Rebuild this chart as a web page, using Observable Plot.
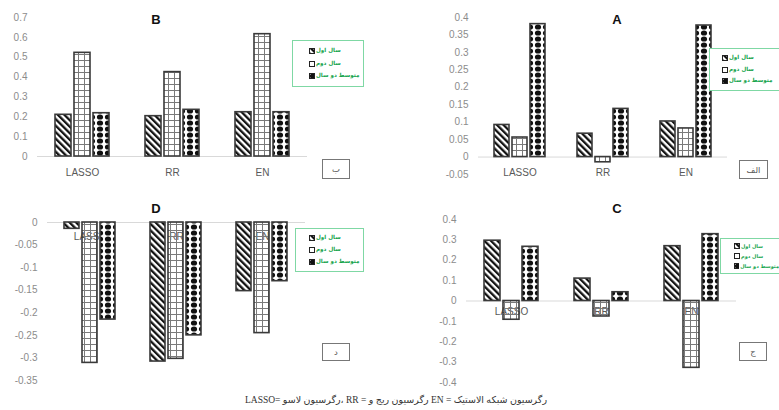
<!DOCTYPE html>
<html>
<head>
<meta charset="utf-8">
<script src="https://cdn.jsdelivr.net/npm/d3@7"></script>
<script src="https://cdn.jsdelivr.net/npm/@observablehq/plot@0.6"></script>
<style>
body{margin:0;background:#fff;}
#root{position:relative;width:779px;height:410px;overflow:hidden;background:#fff;font-family:"Liberation Sans",Arial,sans-serif;}
.title{position:absolute;font-weight:bold;font-size:13px;color:#111;transform:translate(-50%,-50%);line-height:1;}
.legend{position:absolute;border:1px solid #7fd8a4;background:#fff;box-sizing:border-box;display:flex;flex-direction:column;justify-content:space-evenly;overflow:hidden;}
.legend.open{border-right:none;}
.legend .row{display:flex;align-items:center;gap:1px;font-family:"DejaVu Sans",sans-serif;font-weight:bold;color:#12a34a;line-height:1;white-space:nowrap;}
.legend svg{display:block;}
.tag{position:absolute;border:1.5px solid #777;background:#fff;box-sizing:border-box;display:flex;align-items:center;justify-content:center;font-family:"DejaVu Sans",sans-serif;font-size:8.5px;color:#555;}
.caption{position:absolute;top:394px;left:396px;transform:translateX(-50%);white-space:nowrap;font-family:"Liberation Serif","DejaVu Sans",serif;font-size:9.5px;color:#333;direction:ltr;}
</style>
</head>
<body>
<div id="root">
<svg width="0" height="0" style="position:absolute">
  <defs>
    <pattern id="pHatch" patternUnits="userSpaceOnUse" width="4.6" height="4.6" patternTransform="rotate(-45)">
      <rect width="4.6" height="4.6" fill="#fff"/>
      <rect width="2.3" height="4.6" fill="#111"/>
    </pattern>
    <pattern id="pGrid" patternUnits="userSpaceOnUse" width="6" height="6">
      <path d="M0 0.5H6M0.5 0V6" stroke="#7a7a7a" stroke-width="1" fill="none"/>
    </pattern>
    <pattern id="pDots" patternUnits="userSpaceOnUse" width="8" height="6">
      <rect width="8" height="6" fill="#fff"/>
      <ellipse cx="4" cy="3" rx="3.1" ry="2.6" fill="#111"/>
    </pattern>
  </defs>
</svg>
</div>
<script>
// ---- data ----
const methods = ["LASSO", "RR", "EN"];
const seriesNames = ["سال اول", "سال دوم", "متوسط دو سال"];
const titles = ["A", "B", "C", "D"];
const tagLabels = ["الف", "ب", "ج", "د"];
const captionText = "LASSO= رگرسیون لاسو، RR = رگرسیون ریج و EN = رگرسیون شبکه الاستیک";

// values[method][series]
const valuesA = [[0.092, 0.056, 0.381], [0.067, -0.015, 0.138], [0.102, 0.082, 0.377]];
const valuesB = [[0.21, 0.522, 0.218], [0.203, 0.425, 0.235], [0.223, 0.616, 0.223]];
const valuesC = [[0.296, -0.092, 0.266], [0.11, -0.076, 0.043], [0.269, -0.328, 0.328]];
const valuesD = [[-0.014, -0.311, -0.215], [-0.308, -0.302, -0.25], [-0.152, -0.245, -0.13]];

const ticksA = [-0.05, 0, 0.05, 0.1, 0.15, 0.2, 0.25, 0.3, 0.35, 0.4];
const ticksB = [0, 0.1, 0.2, 0.3, 0.4, 0.5, 0.6, 0.7];
const ticksC = [-0.4, -0.3, -0.2, -0.1, 0, 0.1, 0.2, 0.3, 0.4];
const ticksD = [-0.35, -0.3, -0.25, -0.2, -0.15, -0.1, -0.05, 0];

// ---- styling / layout ----
const patternUrls = ["url(#pHatch)", "url(#pGrid)", "url(#pDots)"];
const root = document.getElementById("root");

const panels = [
  {values: valuesB, ticks: ticksB, domain: [0, 0.7], title: titles[1], tag: tagLabels[1],
   left: 0, top: 0, width: 390, height: 190, m: [17, 83, 34, 37], labelAt: 0, dy: 16,
   titlePos: [156, 19], legend: [292, 40, 72, 47, 16, 5.6, false], tagBox: [322, 159, 28, 20]},
  {values: valuesA, ticks: ticksA, domain: [-0.05, 0.4], title: titles[0], tag: tagLabels[0],
   left: 390, top: 0, width: 389, height: 190, m: [17, 52, 16, 88], labelAt: -0.05, dy: -2,
   titlePos: [617, 19], legend: [709, 48, 70, 43, 12, 5.6, true], tagBox: [739, 160, 29, 19]},
  {values: valuesD, ticks: ticksD, domain: [-0.35, 0], title: titles[3], tag: tagLabels[3],
   left: 0, top: 200, width: 390, height: 190, m: [22, 85, 10, 47], labelAt: 0, dy: 14,
   titlePos: [156, 208], legend: [295, 228, 69, 44, 13, 5.6, false], tagBox: [322, 343, 28, 18]},
  {values: valuesC, ticks: ticksC, domain: [-0.4, 0.4], title: titles[2], tag: tagLabels[2],
   left: 390, top: 200, width: 389, height: 190, m: [19, 43, 8, 76], labelAt: 0, dy: 11,
   titlePos: [617, 208], legend: [720, 238, 59, 36, 13, 5, true], tagBox: [739, 342, 28, 19]}
];

function fmt(d) { return String(+d.toFixed(2)); }

for (const p of panels) {
  const data = methods.flatMap((m, i) => seriesNames.map((s, j) => ({method: m, series: s, value: p.values[i][j]})));
  const svg = Plot.plot({
    width: p.width, height: p.height,
    marginTop: p.m[0], marginRight: p.m[1], marginBottom: p.m[2], marginLeft: p.m[3],
    style: {background: "transparent", color: "#8c8c8c", fontSize: "10px", fontFamily: "Liberation Sans, Arial, sans-serif", overflow: "visible"},
    fx: {domain: methods, padding: 0, axis: null},
    x: {domain: seriesNames, paddingInner: 0.15, paddingOuter: 0.85, axis: null},
    y: {domain: p.domain, axis: null},
    color: {domain: seriesNames, range: patternUrls},
    marks: [
      Plot.ruleY([0], {stroke: "#d9d9d9", strokeWidth: 1}),
      Plot.axisY(p.ticks, {tickSize: 0, tickPadding: 10, tickFormat: fmt, fill: "#8c8c8c", fontSize: 10, label: null}),
      Plot.text(methods, {fx: d => d, y: () => p.labelAt, text: d => d, dy: p.dy, fill: "#595959", fontSize: 10}),
      Plot.barY(data, {fx: "method", x: "series", y: "value", fill: "series", stroke: "#3a3a3a", strokeWidth: 1.6})
    ]
  });
  svg.style.position = "absolute";
  svg.style.left = p.left + "px";
  svg.style.top = p.top + "px";
  root.appendChild(svg);

  const t = document.createElement("div");
  t.className = "title";
  t.textContent = p.title;
  t.style.left = p.titlePos[0] + "px";
  t.style.top = p.titlePos[1] + "px";
  root.appendChild(t);

  const lg = document.createElement("div");
  lg.className = "legend" + (p.legend[6] ? " open" : "");
  lg.style.left = p.legend[0] + "px";
  lg.style.top = p.legend[1] + "px";
  lg.style.width = p.legend[2] + "px";
  lg.style.height = p.legend[3] + "px";
  lg.style.paddingLeft = p.legend[4] + "px";
  lg.style.fontSize = p.legend[5] + "px";
  seriesNames.forEach((s, j) => {
    const row = document.createElement("div");
    row.className = "row";
    row.innerHTML = `<svg width="6" height="6"><rect x="0.5" y="0.5" width="5" height="5" fill="${patternUrls[j]}" stroke="#222" stroke-width="1"/></svg>`;
    const sp = document.createElement("span");
    sp.textContent = s;
    row.appendChild(sp);
    lg.appendChild(row);
  });
  root.appendChild(lg);

  const tg = document.createElement("div");
  tg.className = "tag";
  tg.textContent = p.tag;
  tg.style.left = p.tagBox[0] + "px";
  tg.style.top = p.tagBox[1] + "px";
  tg.style.width = p.tagBox[2] + "px";
  tg.style.height = p.tagBox[3] + "px";
  root.appendChild(tg);
}

const cap = document.createElement("div");
cap.className = "caption";
cap.textContent = captionText;
root.appendChild(cap);
</script>
</body>
</html>
